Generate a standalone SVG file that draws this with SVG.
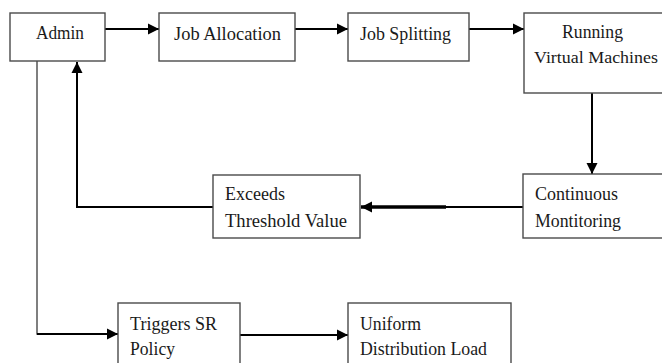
<svg xmlns="http://www.w3.org/2000/svg" width="662" height="363" viewBox="0 0 662 363">
<style>
.box{fill:#fff;stroke:#4a4a4a;stroke-width:1.4}
.t{font-family:"Liberation Serif","Times New Roman",serif;font-size:19px;fill:#1a1a1a}
.c{fill:none;stroke:#000;stroke-width:2}
.g{fill:none;stroke:#555;stroke-width:1.5}
</style>
<defs>
<marker id="ah" markerUnits="userSpaceOnUse" markerWidth="12" markerHeight="12" viewBox="0 0 12 12" refX="11" refY="6" orient="auto">
<path d="M0,0.5 L11,6 L0,11.5 Z" fill="#000"/>
</marker>
</defs>
<rect width="662" height="363" fill="#fff"/>
<g id="connectors">
<line class="c" x1="105" y1="29" x2="159" y2="29" marker-end="url(#ah)"/>
<line class="c" x1="295" y1="29" x2="348" y2="29" marker-end="url(#ah)"/>
<line class="c" x1="469" y1="29" x2="524" y2="29" marker-end="url(#ah)"/>
<line class="c" x1="592" y1="93" x2="592" y2="174" marker-end="url(#ah)"/>
<line class="c" x1="523" y1="207" x2="445" y2="207"/>
<line x1="446" y1="207" x2="361" y2="207" stroke="#000" stroke-width="3.5" marker-end="url(#ah)"/>
<polyline class="c" points="213,207 77,207 77,62" marker-end="url(#ah)"/>
<polyline class="g" points="37,61 37,334 60,334"/>
<line class="c" x1="37" y1="334" x2="118" y2="334" marker-end="url(#ah)"/>
<line class="c" x1="240" y1="335" x2="348" y2="335" marker-end="url(#ah)"/>
</g>
<g id="admin">
<rect class="box" x="10" y="13" width="95" height="48"/>
<text class="t" x="36" y="39" textLength="48" lengthAdjust="spacingAndGlyphs">Admin</text>
</g>
<g id="job-allocation">
<rect class="box" x="159" y="13" width="136" height="48"/>
<text class="t" x="174" y="40" textLength="107" lengthAdjust="spacingAndGlyphs">Job Allocation</text>
</g>
<g id="job-splitting">
<rect class="box" x="348" y="13" width="121" height="48"/>
<text class="t" x="360" y="40" textLength="91" lengthAdjust="spacingAndGlyphs">Job Splitting</text>
</g>
<g id="running-vm">
<rect class="box" x="524" y="13" width="145" height="80"/>
<text class="t" x="562" y="38" textLength="61" lengthAdjust="spacingAndGlyphs">Running</text>
<text class="t" x="534" y="63" font-size="17" textLength="124" lengthAdjust="spacingAndGlyphs" style="font-size:17px">Virtual Machines</text>
</g>
<g id="continuous-monitoring">
<rect class="box" x="523" y="174" width="145" height="64"/>
<text class="t" x="535" y="200" textLength="83" lengthAdjust="spacingAndGlyphs">Continuous</text>
<text class="t" x="535" y="227" textLength="86" lengthAdjust="spacingAndGlyphs">Montitoring</text>
</g>
<g id="exceeds-threshold">
<rect class="box" x="213" y="175" width="147" height="63"/>
<text class="t" x="225" y="200" textLength="60" lengthAdjust="spacingAndGlyphs">Exceeds</text>
<text class="t" x="225" y="227" textLength="122" lengthAdjust="spacingAndGlyphs">Threshold Value</text>
</g>
<g id="triggers-sr">
<rect class="box" x="118" y="303" width="122" height="70"/>
<text class="t" x="130" y="330" textLength="87" lengthAdjust="spacingAndGlyphs">Triggers SR</text>
<text class="t" x="130" y="355" textLength="45" lengthAdjust="spacingAndGlyphs">Policy</text>
</g>
<g id="uniform-load">
<rect class="box" x="348" y="303" width="163" height="70"/>
<text class="t" x="360" y="330" textLength="61" lengthAdjust="spacingAndGlyphs">Uniform</text>
<text class="t" x="360" y="355" textLength="127" lengthAdjust="spacingAndGlyphs">Distribution Load</text>
</g>
</svg>
